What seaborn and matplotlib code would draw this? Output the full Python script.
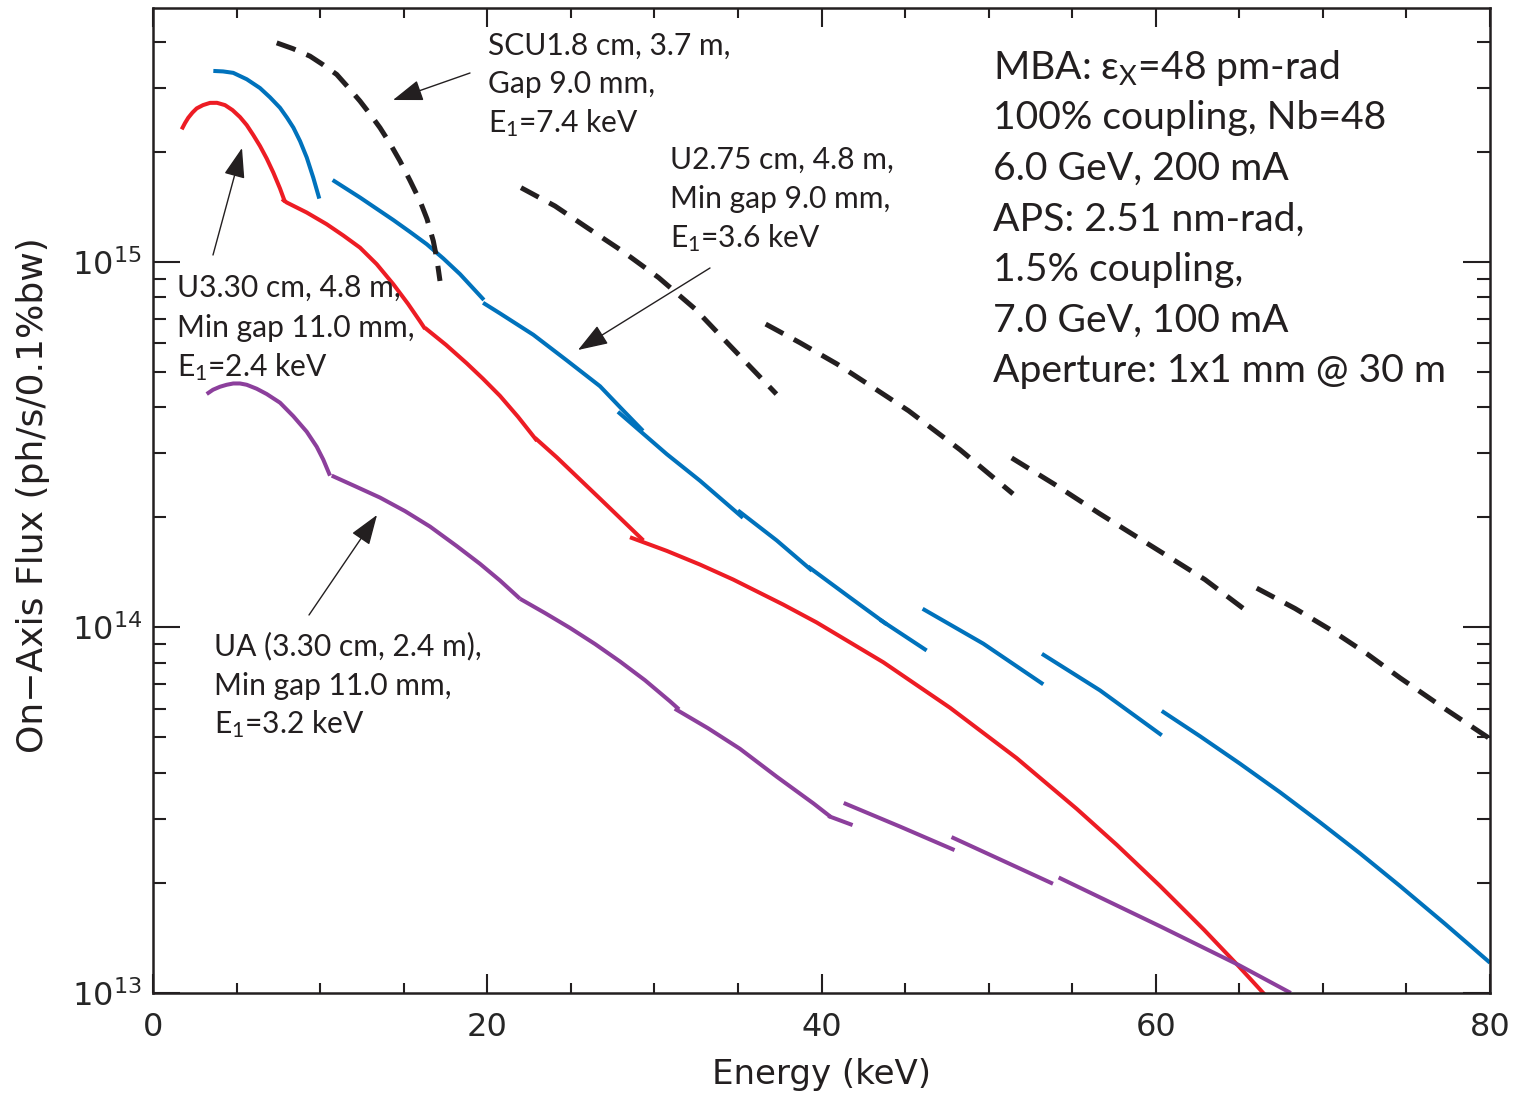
import numpy as np
import pandas as pd
import matplotlib
matplotlib.use("Agg")
import matplotlib.pyplot as plt
from matplotlib.ticker import MultipleLocator, LogLocator, NullFormatter
import seaborn as sns

# ---------------- data: energy (keV) and on-axis flux (ph/s/0.1%bw) ----------------
# U3.30 cm, 4.8 m (red) - harmonic tuning segments
u330_E = [
    [1.717, 1.915, 2.112, 2.363, 2.615, 2.992, 3.41, 3.829, 4.308, 4.757, 5.206, 5.607,
     6.002, 6.403, 6.803, 7.198, 7.599, 7.898],
    [7.719, 8.0, 9.197, 10.394, 11.387, 12.386, 13.385, 14.379, 15.258, 15.976, 16.276],
    [16.276, 17.532, 18.771, 19.746, 20.763, 21.840, 22.977],
    [22.86, 24.16, 26.75, 29.34],
    [28.54, 30.74, 32.73, 34.72, 37.71, 39.71, 43.70, 47.69, 51.68, 55.27, 57.68, 60.25,
     62.89, 64.96, 66.52],
]
u330_F = [
    [2.305e15, 2.398e15, 2.480e15, 2.562e15, 2.630e15, 2.685e15, 2.723e15, 2.724e15, 2.685e15,
     2.602e15, 2.490e15, 2.368e15, 2.223e15, 2.075e15, 1.918e15, 1.756e15, 1.588e15, 1.458e15],
    [1.486e15, 1.454e15, 1.365e15, 1.268e15, 1.181e15, 1.094e15, 9.86e14, 8.69e14, 7.68e14,
     6.88e14, 6.56e14],
    [6.60e14, 5.93e14, 5.28e14, 4.79e14, 4.30e14, 3.77e14, 3.24e14],
    [3.30e14, 2.92e14, 2.25e14, 1.73e14],
    [1.765e14, 1.620e14, 1.486e14, 1.352e14, 1.155e14, 1.032e14, 8.03e13, 6.03e13, 4.39e13,
     3.19e13, 2.54e13, 1.964e13, 1.489e13, 1.184e13, 9.9e12],
]

# U2.75 cm, 4.8 m (blue)
u275_E = [
    [3.61, 4.19, 4.80, 5.61, 6.40, 7.00, 7.60, 8.02, 8.40, 8.80, 9.20, 9.59, 9.95],
    [10.75, 12.39, 14.38, 15.378, 16.38, 17.37, 18.37, 19.80],
    [19.75, 20.763, 22.755, 24.754, 26.747, 28.141, 29.319],
    [27.82, 30.74, 32.73, 35.30],
    [35.00, 37.32, 39.43],
    [39.19, 41.70, 43.90],
    [43.50, 46.29],
    [46.05, 49.68, 53.27],
    [53.19, 56.66, 60.36],
    [60.36, 62.65, 65.04, 67.44, 69.83, 72.22, 74.61, 77.30, 80.00],
]
u275_F = [
    [3.33e15, 3.32e15, 3.29e15, 3.16e15, 2.99e15, 2.82e15, 2.64e15, 2.48e15, 2.33e15, 2.14e15,
     1.93e15, 1.70e15, 1.49e15],
    [1.675e15, 1.50e15, 1.302e15, 1.208e15, 1.118e15, 1.022e15, 9.26e14, 7.87e14],
    [7.73e14, 7.23e14, 6.32e14, 5.38e14, 4.57e14, 3.92e14, 3.45e14],
    [3.89e14, 2.98e14, 2.52e14, 1.995e14],
    [2.09e14, 1.73e14, 1.43e14],
    [1.468e14, 1.208e14, 1.02e14],
    [1.05e14, 8.65e13],
    [1.125e14, 9.03e13, 6.99e13],
    [8.47e13, 6.73e13, 5.07e13],
    [5.91e13, 5.04e13, 4.24e13, 3.54e13, 2.93e13, 2.41e13, 1.963e13, 1.547e13, 1.21e13],
]

# UA 3.30 cm, 2.4 m (purple)
ua_E = [
    [3.213, 3.590, 4.009, 4.410, 4.805, 5.206, 5.607, 6.205, 6.803, 7.599, 8.395, 9.197,
     9.795, 10.190, 10.591],
    [10.693, 12.087, 13.583, 15.079, 16.575, 18.172, 19.566, 20.763, 21.960],
    [21.960, 23.456, 24.952, 26.448, 27.944, 29.440, 30.935, 31.474],
    [31.22, 33.21, 35.11, 37.34, 39.52, 40.56],
    [40.40, 41.86],
    [41.33, 44.72, 47.96],
    [47.78, 53.85],
    [54.19, 60.29, 64.96, 68.08],
]
ua_F = [
    [4.351e14, 4.470e14, 4.555e14, 4.612e14, 4.650e14, 4.650e14, 4.612e14, 4.498e14, 4.351e14,
     4.120e14, 3.784e14, 3.432e14, 3.122e14, 2.877e14, 2.602e14],
    [2.602e14, 2.435e14, 2.266e14, 2.081e14, 1.888e14, 1.670e14, 1.493e14, 1.344e14, 1.198e14],
    [1.198e14, 1.095e14, 9.97e13, 9.01e13, 8.07e13, 7.17e13, 6.28e13, 5.97e13],
    [5.995e13, 5.30e13, 4.66e13, 3.90e13, 3.30e13, 3.03e13],
    [3.05e13, 2.88e13],
    [3.31e13, 2.85e13, 2.46e13],
    [2.67e13, 1.99e13],
    [2.07e13, 1.52e13, 1.193e13, 1.0e13],
]

# SCU 1.8 cm, 3.7 m (black dashed)
scu_E = [
    [7.402, 8.377, 9.394, 10.172, 10.992, 11.668, 12.386, 12.984, 13.583, 14.181, 14.779,
     15.378, 15.976, 16.395, 16.772, 16.993, 17.173],
    [22.020, 24.054, 25.975, 28.063, 30.253, 32.431, 34.525, 37.302],
    [36.661, 38.714, 40.933, 43.021, 45.212, 48.287, 51.459],
    [51.381, 53.972, 56.664, 60.655, 62.947, 65.341],
    [66.040, 68.332, 70.624, 72.640, 74.615, 77.307, 80.0],
]
scu_F = [
    [3.974e15, 3.831e15, 3.655e15, 3.464e15, 3.257e15, 3.007e15, 2.754e15, 2.538e15, 2.328e15,
     2.108e15, 1.888e15, 1.670e15, 1.468e15, 1.311e15, 1.141e15, 1.013e15, 8.87e14],
    [1.596e15, 1.422e15, 1.241e15, 1.072e15, 9.06e14, 7.44e14, 5.90e14, 4.35e14],
    [6.76e14, 6.01e14, 5.255e14, 4.555e14, 3.915e14, 3.064e14, 2.319e14],
    [2.909e14, 2.459e14, 2.045e14, 1.573e14, 1.352e14, 1.118e14],
    [1.281e14, 1.127e14, 9.75e13, 8.47e13, 7.28e13, 5.99e13, 4.96e13],
]

x_ticks = [0, 20, 40, 60, 80]

# annotation texts
scu_text = ["SCU1.8 cm, 3.7 m,", "Gap 9.0 mm,", "E$_1$=7.4 keV"]
u275_text = ["U2.75 cm, 4.8 m,", "Min gap 9.0 mm,", "E$_1$=3.6 keV"]
u330_text = ["U3.30 cm, 4.8 m,", "Min gap 11.0 mm,", "E$_1$=2.4 keV"]
ua_text = ["UA (3.30 cm, 2.4 m),", "Min gap 11.0 mm,", "E$_1$=3.2 keV"]
info_text = ["MBA: ε$_{\\mathrm{X}}$=48 pm-rad", "100% coupling, Nb=48", "6.0 GeV, 200 mA",
             "APS: 2.51 nm-rad,", "1.5% coupling,", "7.0 GeV, 100 mA", "Aperture: 1x1 mm @ 30 m"]


def to_frame(name, Es, Fs):
    rows = []
    for k, (e, f) in enumerate(zip(Es, Fs)):
        for ei, fi in zip(e, f):
            rows.append({"series": name, "seg": f"{name}-{k}", "E": ei, "F": fi})
    return rows


df_solid = pd.DataFrame(to_frame("U3.30", u330_E, u330_F) +
                        to_frame("U2.75", u275_E, u275_F) +
                        to_frame("UA", ua_E, ua_F))
df_dash = pd.DataFrame(to_frame("SCU", scu_E, scu_F))

# ---------------- style ----------------
sns.set_style("ticks")
plt.rcParams["font.family"] = ["DejaVu Sans"]
plt.rcParams["mathtext.fontset"] = "custom"
plt.rcParams["mathtext.rm"] = "Lato"
plt.rcParams["mathtext.it"] = "Lato:italic"
plt.rcParams["mathtext.bf"] = "Lato:bold"

W, H = 1518, 1096
fig = plt.figure(figsize=(W / 100, H / 100), dpi=100)
L, R, T, B = 153, 1490, 8, 993
ax = fig.add_axes([L / W, 1 - B / H, (R - L) / W, (B - T) / H])

palette = {"U3.30": "#ED1C24", "U2.75": "#0072BC", "UA": "#8C3F9C"}
sns.lineplot(data=df_solid, x="E", y="F", hue="series", units="seg", estimator=None,
             sort=False, palette=palette, linewidth=2.9, legend=False, ax=ax)
n_solid = len(ax.lines)
sns.lineplot(data=df_dash, x="E", y="F", units="seg", estimator=None, sort=False,
             color="#231F20", linewidth=3.6, legend=False, ax=ax)
for i, ln in enumerate(ax.lines):
    ln.set_solid_capstyle("butt")
    ln.set_solid_joinstyle("round")
    ln.set_dash_capstyle("butt")
    if i >= n_solid:
        ln.set_dashes([4.0, 2.4])

ax.set_yscale("log")
ax.set_xlim(0, 80)
ax.set_ylim(1e13, 4.95e15)
ax.set_xticks(x_ticks)
ax.xaxis.set_minor_locator(MultipleLocator(5))
ax.yaxis.set_major_locator(LogLocator(base=10, numticks=10))
ax.yaxis.set_minor_locator(LogLocator(base=10, subs=np.arange(2, 10), numticks=100))
ax.yaxis.set_minor_formatter(NullFormatter())

for s in ax.spines.values():
    s.set_visible(True)
    s.set_linewidth(1.8)
    s.set_color("#231F20")

ax.tick_params(axis="both", which="both", direction="in", top=True, right=True,
               color="#231F20", width=1.5)
ax.tick_params(axis="x", which="major", length=13.5, pad=14, labelsize=23)
ax.tick_params(axis="x", which="minor", length=7)
ax.tick_params(axis="y", which="major", length=19.5, pad=8, labelsize=23)
ax.tick_params(axis="y", which="minor", length=9.5)

ax.set_xlabel("Energy (keV)", fontsize=24.5, color="#231F20")
ax.set_ylabel("On\u2212Axis Flux (ph/s/0.1%bw)", fontsize=26, color="#231F20")
ax.xaxis.set_label_coords(0.5, -0.066)
ax.yaxis.set_label_coords(-0.077, 0.505)


def pxy(x, y):
    return ((x - L) / (R - L), (B - y) / (B - T))


def put_lines(lines, x, baselines, size):
    for txt, yb in zip(lines, baselines):
        ax.text(*pxy(x, yb), txt, transform=ax.transAxes, fontsize=size,
                family=["Lato", "DejaVu Sans"], color="#231F20", ha="left", va="baseline")


put_lines(scu_text, 488, [55, 93.5, 132], 21.6)
put_lines(u275_text, 670, [168.5, 208, 247], 21.6)
put_lines(u330_text, 177, [297, 336.5, 376], 21.6)
put_lines(ua_text, 214, [655, 695, 733.5], 21.6)
put_lines(info_text, 993, [79, 129.5, 180, 230.5, 281, 331.5, 382], 28.2)


def arrow(tail, head):
    ax.annotate("", xy=pxy(*head), xytext=pxy(*tail), xycoords="axes fraction",
                textcoords="axes fraction",
                arrowprops=dict(arrowstyle="-|>,head_length=0.85,head_width=0.3",
                                mutation_scale=22, lw=1.0, color="#231F20",
                                shrinkA=0, shrinkB=0))


arrow((470, 73), (393, 100))
arrow((213, 255), (242, 148))
arrow((710, 268), (578, 350))
arrow((309, 615), (377, 515))

fig.savefig("out.png", dpi=100)
